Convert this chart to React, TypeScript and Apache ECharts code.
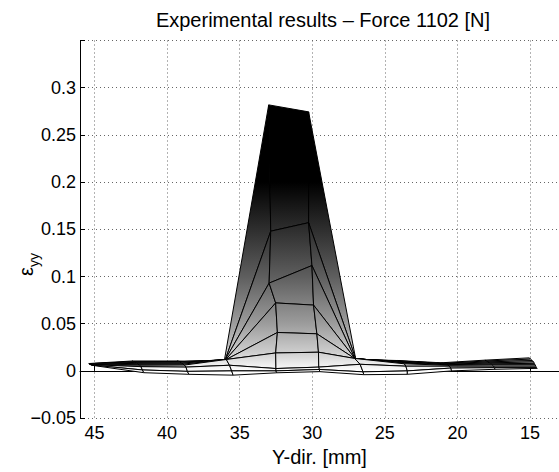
import React, { useEffect, useRef } from 'react';
import * as echarts from 'echarts';

const chartTitle = 'Experimental results \u2013 Force 1102 [N]';
const xAxisName = 'Y-dir. [mm]';
const xTicks = [15, 20, 25, 30, 35, 40, 45];
const yTicks = [-0.05, 0, 0.05, 0.1, 0.15, 0.2, 0.25, 0.3];

// Projected surface mesh (rows from back to front), Y-dir position of each mesh node [mm]
const rowY = [
  [45.4, 42.4, 39.3, 36.1, 33.0, 30.25, 27.0, 24.1, 21.1, 18.1, 15.06],
  [45.38, 42.3, 39.2, 36.0, 32.86, 30.25, 27.0, 24.0, 21.0, 18.0, 14.95],
  [45.36, 42.2, 39.1, 36.0, 32.97, 30.02, 27.05, 23.95, 20.95, 17.9, 14.85],
  [45.34, 42.1, 39.0, 35.95, 32.52, 29.91, 27.05, 23.85, 20.85, 17.8, 14.75],
  [45.32, 42.0, 38.9, 35.92, 32.4, 29.68, 27.08, 23.75, 20.75, 17.7, 14.7],
  [45.3, 41.9, 38.8, 35.92, 32.52, 29.57, 27.08, 23.65, 20.65, 17.6, 14.65],
  [45.26, 41.8, 38.7, 35.7, 32.5, 29.55, 26.7, 23.55, 20.55, 17.5, 14.6],
  [45.23, 41.7, 38.6, 35.55, 32.5, 29.5, 26.5, 23.45, 20.45, 17.45, 14.55],
  [45.2, 41.6, 38.5, 35.45, 32.45, 29.5, 26.45, 23.45, 20.4, 17.4, 14.5],
];

// Strain eps_yy at each mesh node (as projected)
const rowEps = [
  [0.0078, 0.0105, 0.0105, 0.007, 0.2818, 0.2744, 0.0121, 0.011, 0.0086, 0.0114, 0.0138],
  [0.0076, 0.0098, 0.01, 0.0115, 0.148, 0.157, 0.0125, 0.0105, 0.008, 0.0105, 0.0125],
  [0.0074, 0.009, 0.0092, 0.0118, 0.093, 0.1116, 0.0128, 0.01, 0.0075, 0.0095, 0.011],
  [0.0072, 0.008, 0.0082, 0.0121, 0.072, 0.0697, 0.013, 0.0092, 0.007, 0.0085, 0.0095],
  [0.007, 0.007, 0.0072, 0.0121, 0.0407, 0.0393, 0.0132, 0.0085, 0.0065, 0.0075, 0.008],
  [0.0068, 0.006, 0.0062, 0.0121, 0.019, 0.0198, 0.0132, 0.0075, 0.006, 0.0065, 0.0065],
  [0.0066, 0.0045, 0.004, 0.006, 0.0025, 0.004, 0.007, 0.005, 0.005, 0.005, 0.005],
  [0.0063, 0.001, -0.0005, 0.0, 0.0, 0.0015, -0.001, 0.0, 0.003, 0.0035, 0.0035],
  [0.006, -0.0019, -0.0036, -0.0045, -0.002, -0.0008, -0.004, -0.0036, 0.0, 0.0017, 0.0027],
];

// colour map: strain value -> grey level (dark = high)
const shadeEps = [0.2, 0.15, 0.1, 0.05, 0.02, 0.005, 0];
const shadeColors = ['#000000', '#2e2e2e', '#5e5e5e', '#9c9c9c', '#cdcdcd', '#f2f2f2', '#ffffff'];

const FONT = "'Liberation Sans', Arial, Helvetica, sans-serif";

export default function App() {
  const ref = useRef<HTMLDivElement>(null);

  useEffect(() => {
    document.body.style.margin = '0';
    const chart = echarts.init(ref.current!, null, { renderer: 'svg' });

    const quads: number[][] = [];
    for (let i = 0; i < rowY.length - 1; i++) {
      for (let j = 0; j < rowY[i].length - 1; j++) {
        quads.push([rowY[i][j], rowEps[i][j], i, j]);
      }
    }

    const renderItem = (_params: any, api: any) => {
      const i = api.value(2);
      const j = api.value(3);
      const idx = [
        [i, j],
        [i, j + 1],
        [i + 1, j + 1],
        [i + 1, j],
      ];
      const points = idx.map(([a, b]) => api.coord([rowY[a][b], rowEps[a][b]]));
      const yTop = api.coord([30, shadeEps[0]])[1];
      const yBot = api.coord([30, 0])[1];
      const span = yBot - yTop;
      const colorStops = shadeEps.map((e, k) => ({
        offset: (api.coord([30, e])[1] - yTop) / span,
        color: shadeColors[k],
      }));
      return {
        type: 'polygon',
        shape: { points },
        style: {
          fill: {
            type: 'linear',
            x: 0,
            y: yTop,
            x2: 0,
            y2: yBot,
            global: true,
            colorStops,
          },
          stroke: '#000',
          lineWidth: 1,
          lineJoin: 'round',
        },
      };
    };

    const fmtY = (v: number) => {
      const r = Math.round(v * 100) / 100;
      if (!yTicks.some((t) => Math.abs(t - r) < 1e-9)) return '';
      if (r === 0) return '0';
      return String(r).replace('-', '\u2212');
    };

    chart.setOption({
      animation: false,
      backgroundColor: '#ffffff',
      grid: { left: 80, top: 40.5, width: 485.4, height: 382.2, containLabel: false },
      xAxis: {
        type: 'value',
        inverse: true,
        min: 13,
        max: 46,
        splitNumber: 7,
        name: xAxisName,
        nameLocation: 'middle',
        nameGap: 22,
        nameTextStyle: { color: '#000', fontSize: 20, fontFamily: FONT, verticalAlign: 'top' },
        axisLine: { show: true, lineStyle: { color: '#000', width: 1 } },
        axisTick: { show: true, inside: true, length: 5, lineStyle: { color: '#000' } },
        axisLabel: {
          show: true,
          margin: 6,
          color: '#000',
          fontSize: 18,
          fontFamily: FONT,
          showMinLabel: false,
          showMaxLabel: false,
          formatter: (v: number) => (xTicks.includes(Math.round(v)) && Math.abs(v - Math.round(v)) < 1e-9 ? String(Math.round(v)) : ''),
        },
        splitLine: { show: true, lineStyle: { color: '#666', width: 1, type: [1, 3] } },
      },
      yAxis: {
        type: 'value',
        min: -0.05,
        max: 0.35,
        interval: 0.05,
        axisLine: { show: true, lineStyle: { color: '#000', width: 1 } },
        axisTick: { show: true, inside: true, length: 5, lineStyle: { color: '#000' } },
        axisLabel: {
          show: true,
          margin: 4,
          color: '#000',
          fontSize: 18,
          fontFamily: FONT,
          formatter: fmtY,
        },
        splitLine: { show: true, lineStyle: { color: '#666', width: 1, type: [1, 3] } },
      },
      graphic: [
        {
          type: 'text',
          x: 323,
          y: 10,
          style: {
            text: chartTitle,
            fill: '#000',
            font: `20px ${FONT}`,
            textAlign: 'center',
            textVerticalAlign: 'top',
          },
        },
        {
          type: 'group',
          x: 36,
          y: 276,
          rotation: Math.PI / 2,
          children: [
            {
              type: 'text',
              x: 0,
              y: 0,
              style: { text: '\u03b5', fill: '#000', font: `20px ${FONT}`, textAlign: 'left', textVerticalAlign: 'bottom' },
            },
            {
              type: 'text',
              x: 9,
              y: 5,
              style: { text: 'yy', fill: '#000', font: `14px ${FONT}`, textAlign: 'left', textVerticalAlign: 'bottom' },
            },
          ],
        },
      ],
      series: [
        {
          type: 'custom',
          renderItem,
          data: quads,
          clip: false,
          silent: true,
          z: 5,
        },
      ],
    });

    return () => chart.dispose();
  }, []);

  return <div ref={ref} style={{ width: 559, height: 472 }} />;
}
